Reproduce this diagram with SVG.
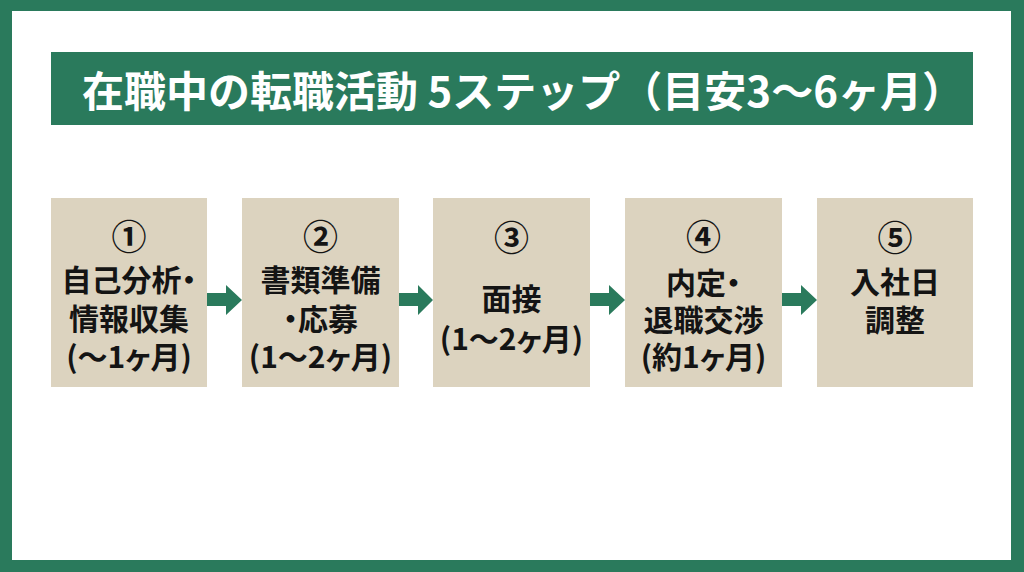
<svg xmlns="http://www.w3.org/2000/svg" width="1024" height="572" viewBox="0 0 1024 572">
<style>
.box{fill:#dcd3bf}
.green{fill:#2a7a5c}
.t{font-family:"Noto Sans CJK JP","Noto Sans",sans-serif;font-weight:bold;font-size:30px;fill:#141414;text-anchor:middle;dominant-baseline:central;font-feature-settings:"palt"}
.n{font-size:35px}
.title{font-family:"Noto Sans CJK JP","Noto Sans",sans-serif;font-weight:bold;font-size:42px;fill:#ffffff;text-anchor:middle;dominant-baseline:central}
</style>
<rect class="green" x="0" y="0" width="1024" height="572"/>
<rect x="12" y="11" width="999" height="549" fill="#ffffff"/>
<g id="title">
<rect class="green" x="51" y="52" width="922" height="73"/>
<text class="title" x="523" y="88">在職中の転職活動 5ステップ（目安3〜6ヶ月）</text>
</g>
<g id="connectors" class="green">
<polygon points="207,293 226,293 226,285 242,300 226,315 226,306 207,306"/>
<polygon points="399,293 418,293 418,285 433,300 418,315 418,306 399,306"/>
<polygon points="590,293 609,293 609,285 625,300 609,315 609,306 590,306"/>
<polygon points="782,293 801,293 801,285 817,300 801,315 801,306 782,306"/>
</g>
<g id="step1">
<rect class="box" x="51" y="198" width="156" height="189"/>
<text class="t n" x="129" y="234">①</text>
<text class="t" x="129" y="278">自己分析・</text>
<text class="t" x="129" y="317">情報収集</text>
<text class="t" x="129" y="355">(〜1ヶ月)</text>
</g>
<g id="step2">
<rect class="box" x="242" y="198" width="157" height="189"/>
<text class="t n" x="320.5" y="234">②</text>
<text class="t" x="320.5" y="278">書類準備</text>
<text class="t" x="320.5" y="317">・応募</text>
<text class="t" x="320.5" y="355">(1〜2ヶ月)</text>
</g>
<g id="step3">
<rect class="box" x="433" y="198" width="157" height="189"/>
<text class="t n" x="511.5" y="235">③</text>
<text class="t" x="511.5" y="297">面接</text>
<text class="t" x="511.5" y="337">(1〜2ヶ月)</text>
</g>
<g id="step4">
<rect class="box" x="625" y="198" width="157" height="189"/>
<text class="t n" x="703.5" y="234">④</text>
<text class="t" x="703.5" y="281">内定・</text>
<text class="t" x="703.5" y="318">退職交渉</text>
<text class="t" x="703.5" y="355">(約1ヶ月)</text>
</g>
<g id="step5">
<rect class="box" x="817" y="198" width="156" height="189"/>
<text class="t n" x="895" y="235">⑤</text>
<text class="t" x="895" y="280">入社日</text>
<text class="t" x="895" y="318">調整</text>
</g>
</svg>
